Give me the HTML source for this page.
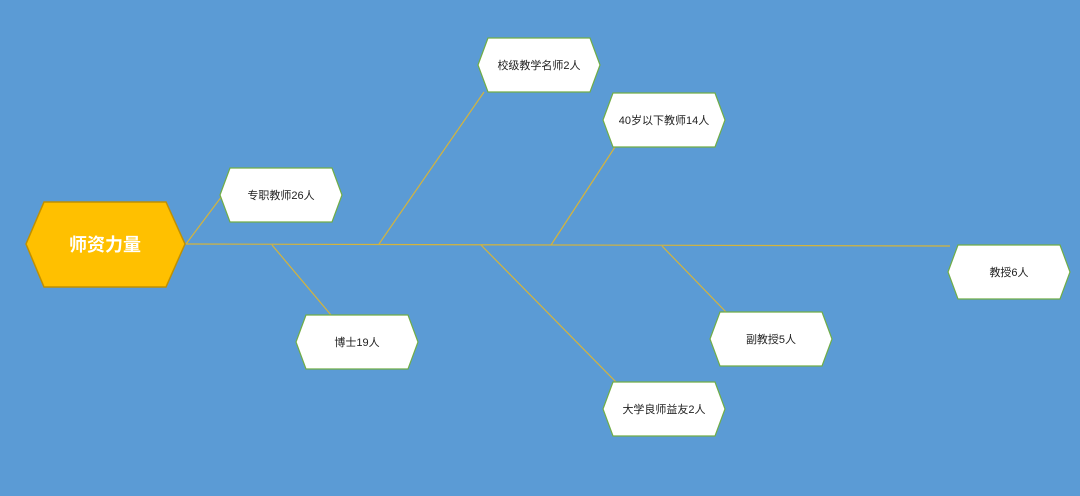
<!DOCTYPE html>
<html><head><meta charset="utf-8"><style>
html,body{margin:0;padding:0;background:#5B9BD5;}
svg{display:block}
text{font-family:"Liberation Sans","Noto Sans CJK SC",sans-serif;}
</style></head><body>
<svg width="1080" height="496" viewBox="0 0 1080 496">
<rect width="1080" height="496" fill="#5B9BD5"/>
<g stroke="#D4B43C" stroke-width="1.2" fill="none">
<line x1="186" y1="244" x2="950" y2="246"/>
<line x1="186" y1="244" x2="222" y2="196"/>
<line x1="379" y1="244" x2="484" y2="92"/>
<line x1="551" y1="245" x2="615" y2="147"/>
<line x1="272" y1="245" x2="331" y2="315"/>
<line x1="481" y1="245" x2="616" y2="382"/>
<line x1="662" y1="246" x2="726" y2="312"/>
</g>
<polygon points="26,244 44,202 166,202 185,244 166,287 44,287" fill="#FFC000" stroke="#C09000" stroke-width="1.5"/>
<text x="105" y="251" text-anchor="middle" font-size="18" font-weight="bold" fill="#fff">师资力量</text>
<g fill="#fff" stroke="#70AD47" stroke-width="1.2">
<polygon points="220,195 230,168 332,168 342,195 332,222 230,222"/>
<polygon points="478,65 488,38 590,38 600,65 590,92 488,92"/>
<polygon points="603,120 613,93 715,93 725,120 715,147 613,147"/>
<polygon points="296,342 306,315 408,315 418,342 408,369 306,369"/>
<polygon points="603,409 613,382 715,382 725,409 715,436 613,436"/>
<polygon points="710,339 720,312 822,312 832,339 822,366 720,366"/>
<polygon points="948,272 958,245 1060,245 1070,272 1060,299 958,299"/>
</g>
<g font-size="11" fill="#222" text-anchor="middle">
<text x="281" y="199">专职教师26人</text>
<text x="539" y="69">校级教学名师2人</text>
<text x="664" y="124">40岁以下教师14人</text>
<text x="357" y="346">博士19人</text>
<text x="664" y="413">大学良师益友2人</text>
<text x="771" y="343">副教授5人</text>
<text x="1009" y="276">教授6人</text>
</g>
</svg>
</body></html>
